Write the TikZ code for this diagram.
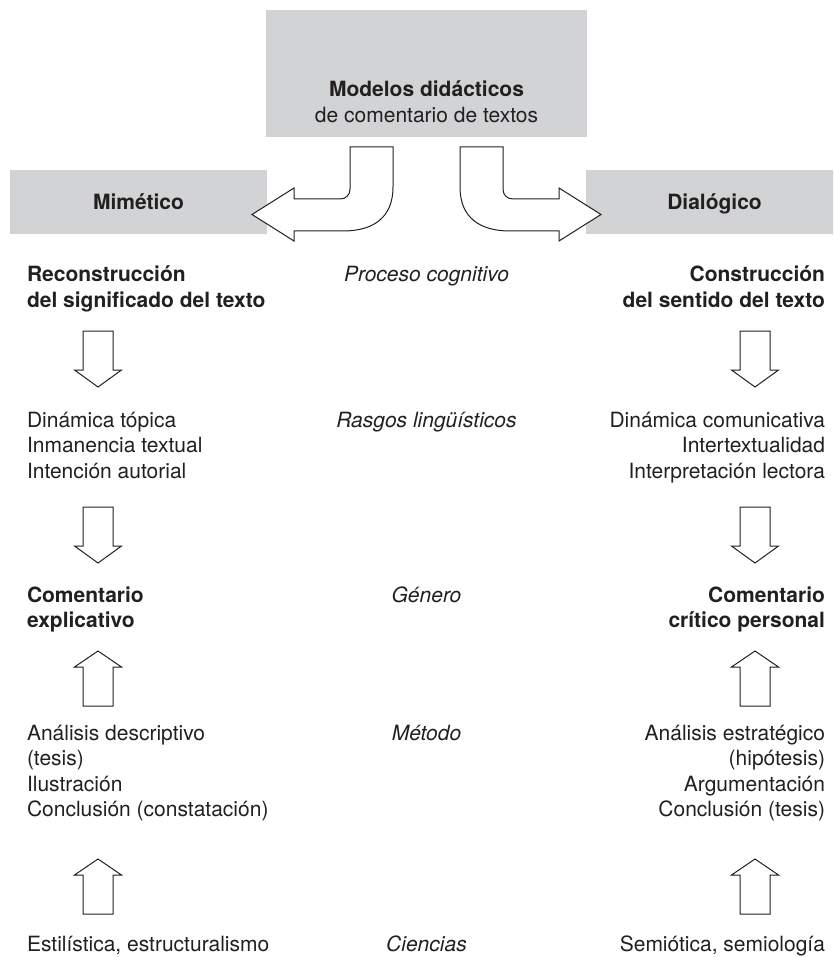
\documentclass[tikz,border=0pt]{standalone}
\usepackage{fontspec}
\setmainfont{TeX Gyre Heros}
\definecolor{boxgray}{HTML}{D1D3D4}
\definecolor{ink}{HTML}{231F20}
\begin{document}
\begin{tikzpicture}[x=1pt,y=-1pt,
  graybox/.style={fill=boxgray, draw=none, inner sep=0pt, outer sep=0pt},
  txt/.style={font=\fontsize{21}{25.5}\selectfont, text=ink, inner sep=0pt, outer sep=0pt},
  boldtxt/.style={font=\fontsize{21}{25.5}\selectfont\bfseries, text=ink, inner sep=0pt, outer sep=0pt},
  itxt/.style={font=\fontsize{21}{25.5}\selectfont\itshape, text=ink, inner sep=0pt, outer sep=0pt, anchor=base},
  lcol/.style={anchor=base west, align=left},
  rcol/.style={anchor=base east, align=right},
  blkarrow/.style={draw=ink, fill=white, line width=1pt, line join=miter},
  downarr/.pic={\draw[blkarrow] (-15,0) -- (15,0) -- (15,39) -- (23.5,39) -- (0,56) -- (-23.5,39) -- (-15,39) -- cycle;},
  uparr/.pic={\draw[blkarrow] (0,0) -- (23.5,16) -- (15,16) -- (15,55) -- (-15,55) -- (-15,16) -- (-23.5,16) -- cycle;}
]
\useasboundingbox (0,0) rectangle (833,957);
% gray boxes
\begin{scope}
\clip (0,0) rectangle (833,957);
\node[graybox, minimum width=321pt, minimum height=127pt] (topbox) at (426.5,73.5) {};
\node[graybox, minimum width=257pt, minimum height=64pt] (mimbox) at (138.5,202) {};
\node[graybox, minimum width=257pt, minimum height=64pt] (dialbox) at (714.5,202) {};
\end{scope}
% curved arrows
\draw[blkarrow] (350,147) -- (393,147) -- (393,187) .. controls (393,217) and (374,231) .. (343,231) -- (294,231) -- (294,241) -- (252,214.5) -- (294,188) -- (294,199) -- (340,199) .. controls (346,199) and (350,195) .. (350,189) -- cycle;
\draw[blkarrow] (503,147) -- (460,147) -- (460,187) .. controls (460,217) and (479,231) .. (510,231) -- (559,231) -- (559,241) -- (601,214.5) -- (559,188) -- (559,199) -- (513,199) .. controls (507,199) and (503,195) .. (503,189) -- cycle;
% titles (base anchor = last line baseline)
\node[txt, align=center, anchor=base] (title) at (426.5,122.5) {\bfseries Modelos didácticos\\de comentario de textos};
\node[boldtxt, anchor=base] (mim) at (138.5,209.5) {Mimético};
\node[boldtxt, anchor=base] (dial) at (714.5,209.5) {Dialógico};
% row 1
\node[boldtxt, lcol] (recon) at (27,307.5) {Reconstrucción\\del significado del texto};
\node[itxt] (proc) at (426.5,282) {Proceso cognitivo};
\node[boldtxt, rcol] (constr) at (825,307.5) {Construcción\\del sentido del texto};
\pic at (98,331) {downarr};
\pic at (755,331) {downarr};
% row 2
\node[txt, lcol] (rasL) at (27,478) {Dinámica tópica\\Inmanencia textual\\Intención autorial};
\node[itxt] (ras) at (426.5,427) {Rasgos lingüísticos};
\node[txt, rcol] (rasR) at (825,478) {Dinámica comunicativa\\Intertextualidad\\Interpretación lectora};
\pic at (98,507) {downarr};
\pic at (755,507) {downarr};
% row 3
\node[boldtxt, lcol] (genL) at (27,627.5) {Comentario\\explicativo};
\node[itxt] (gen) at (426.5,602) {Género};
\node[boldtxt, rcol] (genR) at (825,627.5) {Comentario\\crítico personal};
\pic at (98,651) {uparr};
\pic at (755,651) {uparr};
% row 4
\node[txt, lcol] (metL) at (27,816.5) {Análisis descriptivo\\(tesis)\\Ilustración\\Conclusión (constatación)};
\node[itxt] (met) at (426.5,740) {Método};
\node[txt, rcol] (metR) at (825,816.5) {Análisis estratégico\\(hipótesis)\\Argumentación\\Conclusión (tesis)};
\pic at (98,859) {uparr};
\pic at (755,859) {uparr};
% row 5
\node[txt, lcol] (cienL) at (27,951) {Estilística, estructuralismo};
\node[itxt] (cien) at (426.5,951) {Ciencias};
\node[txt, rcol] (cienR) at (825,951) {Semiótica, semiología};
\end{tikzpicture}
\end{document}
